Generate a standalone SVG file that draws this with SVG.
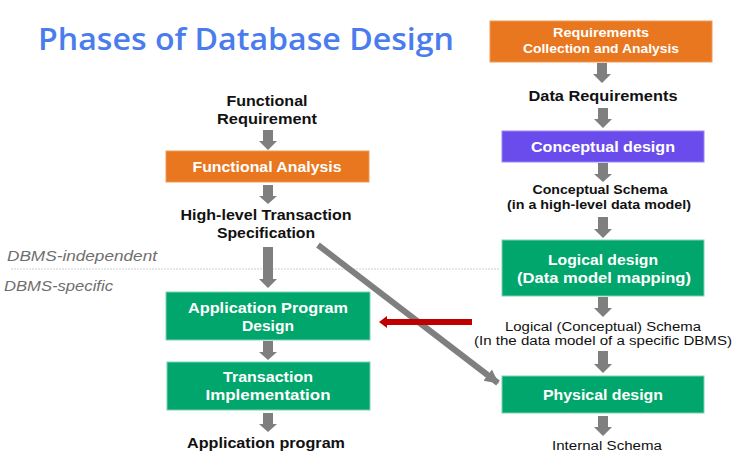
<svg xmlns="http://www.w3.org/2000/svg" width="739" height="472" viewBox="0 0 739 472">
<style>
  text { font-family: "Liberation Sans", Arial, sans-serif; }
  .title { font-family: "Open Sans", "Liberation Sans", sans-serif; font-size: 30px; font-weight: 600; fill: #4a7cee; }
  .lbl { font-size: 15px; font-weight: 700; fill: #111; text-anchor: middle; }
  .sm { font-size: 13px; font-weight: 700; fill: #111; text-anchor: middle; }
  .smr { font-size: 12.5px; font-weight: 400; fill: #111; text-anchor: middle; }
  .wt { font-size: 15px; font-weight: 700; fill: #fff; text-anchor: middle; }
  .wts { font-size: 13px; font-weight: 700; fill: #fff; text-anchor: middle; }
  .side { font-size: 15px; font-style: italic; font-weight: 400; fill: #6e6e6e; }
  .orange { fill: #e8771f; stroke: #f09a55; stroke-width: 1; }
  .purple { fill: #6a4cec; stroke: #9a85f2; stroke-width: 1; }
  .green { fill: #00a66b; stroke: #7fd3b5; stroke-width: 1; }
  .blk { fill: #7f7f7f; }
</style>
<defs>
  <marker id="gh" markerUnits="userSpaceOnUse" markerWidth="16" markerHeight="16" refX="13" refY="7" orient="auto">
    <path d="M0,0 L14,7 L0,14 Z" fill="#7f7f7f"/>
  </marker>
</defs>
<rect width="739" height="472" fill="#fff"/>

<text class="title" x="38" y="50" textLength="416" lengthAdjust="spacingAndGlyphs">Phases of Database Design</text>

<g id="divider">
  <line x1="11" y1="269" x2="500" y2="269" stroke="#cfcfcf" stroke-width="1" stroke-dasharray="2,1"/>
  <text class="side" x="7" y="261" textLength="150" lengthAdjust="spacingAndGlyphs">DBMS-independent</text>
  <text class="side" x="4" y="291" textLength="109" lengthAdjust="spacingAndGlyphs">DBMS-specific</text>
</g>

<g id="connectors">
  <path class="blk" d="M263,130 H273 V141 H277 L268,150 L259,141 H263 Z"/>
  <path class="blk" d="M263,185 H273 V196 H277 L268,204 L259,196 H263 Z"/>
  <path class="blk" d="M263,247 H273 V279 H277 L268,288 L259,279 H263 Z"/>
  <path class="blk" d="M263,341 H273 V352 H277 L268,360 L259,352 H263 Z"/>
  <path class="blk" d="M263,413 H273 V424 H277 L268,432 L259,424 H263 Z"/>
  <path class="blk" d="M597,63 H607 V74 H611 L602,83 L593,74 H597 Z"/>
  <path class="blk" d="M598,108 H608 V119 H612 L603,128 L594,119 H598 Z"/>
  <path class="blk" d="M598,163 H608 V174 H612 L603,182 L594,174 H598 Z"/>
  <path class="blk" d="M598,217 H608 V229 H612 L603,238 L594,229 H598 Z"/>
  <path class="blk" d="M598,297 H608 V308 H612 L603,317 L594,308 H598 Z"/>
  <path class="blk" d="M598,351 H608 V364 H612 L603,373 L594,364 H598 Z"/>
  <path class="blk" d="M598,416 H608 V427 H612 L603,436 L594,427 H598 Z"/>
  <line x1="318" y1="245" x2="498" y2="383" stroke="#7f7f7f" stroke-width="6" marker-end="url(#gh)"/>
  <line x1="472" y1="322" x2="385" y2="322" stroke="#c00000" stroke-width="6"/>
  <path d="M387,316 L379,322 L387,328 Z" fill="#c00000"/>
</g>

<g id="functional-requirement">
  <text class="lbl" x="267" y="106" textLength="81" lengthAdjust="spacingAndGlyphs">Functional</text>
  <text class="lbl" x="267" y="124" textLength="100" lengthAdjust="spacingAndGlyphs">Requirement</text>
</g>
<g id="functional-analysis">
  <rect class="orange" x="166" y="151" width="203" height="31"/>
  <text class="wt" x="267" y="172" textLength="149" lengthAdjust="spacingAndGlyphs">Functional Analysis</text>
</g>
<g id="high-level-spec">
  <text class="lbl" x="266" y="220" textLength="171" lengthAdjust="spacingAndGlyphs">High-level Transaction</text>
  <text class="lbl" x="266" y="238" textLength="98" lengthAdjust="spacingAndGlyphs">Specification</text>
</g>
<g id="app-program-design">
  <rect class="green" x="166" y="292" width="204" height="48"/>
  <text class="wt" x="268" y="313" textLength="160" lengthAdjust="spacingAndGlyphs">Application Program</text>
  <text class="wt" x="268" y="331" textLength="52" lengthAdjust="spacingAndGlyphs">Design</text>
</g>
<g id="transaction-implementation">
  <rect class="green" x="167" y="362" width="203" height="48"/>
  <text class="wt" x="268" y="382" textLength="90" lengthAdjust="spacingAndGlyphs">Transaction</text>
  <text class="wt" x="268" y="400" textLength="125" lengthAdjust="spacingAndGlyphs">Implementation</text>
</g>
<g id="application-program">
  <text class="lbl" x="266" y="448" textLength="158" lengthAdjust="spacingAndGlyphs">Application program</text>
</g>

<g id="requirements-collection">
  <rect class="orange" x="490" y="21" width="222" height="41"/>
  <text class="wts" x="601" y="37" textLength="96" lengthAdjust="spacingAndGlyphs">Requirements</text>
  <text class="wts" x="601" y="53" textLength="156" lengthAdjust="spacingAndGlyphs">Collection and Analysis</text>
</g>
<g id="data-requirements">
  <text class="lbl" x="603" y="101" textLength="149" lengthAdjust="spacingAndGlyphs">Data Requirements</text>
</g>
<g id="conceptual-design">
  <rect class="purple" x="502" y="131" width="202" height="31"/>
  <text class="wt" x="603" y="152" textLength="144" lengthAdjust="spacingAndGlyphs">Conceptual design</text>
</g>
<g id="conceptual-schema">
  <text class="sm" x="600" y="194" textLength="135" lengthAdjust="spacingAndGlyphs">Conceptual Schema</text>
  <text class="sm" x="599" y="209" textLength="184" lengthAdjust="spacingAndGlyphs">(in a high-level data model)</text>
</g>
<g id="logical-design">
  <rect class="green" x="502" y="240" width="202" height="56"/>
  <text class="wt" x="603" y="265" textLength="110" lengthAdjust="spacingAndGlyphs">Logical design</text>
  <text class="wt" x="604" y="283" textLength="174" lengthAdjust="spacingAndGlyphs">(Data model mapping)</text>
</g>
<g id="logical-schema">
  <text class="smr" x="603" y="331" textLength="196" lengthAdjust="spacingAndGlyphs">Logical (Conceptual) Schema</text>
  <text class="smr" x="603" y="345" textLength="258" lengthAdjust="spacingAndGlyphs">(In the data model of a specific DBMS)</text>
</g>
<g id="physical-design">
  <rect class="green" x="502" y="376" width="202" height="37"/>
  <text class="wt" x="603" y="400" textLength="120" lengthAdjust="spacingAndGlyphs">Physical design</text>
</g>
<g id="internal-schema">
  <text class="smr" x="607" y="450" textLength="110" lengthAdjust="spacingAndGlyphs">Internal Schema</text>
</g>
</svg>
